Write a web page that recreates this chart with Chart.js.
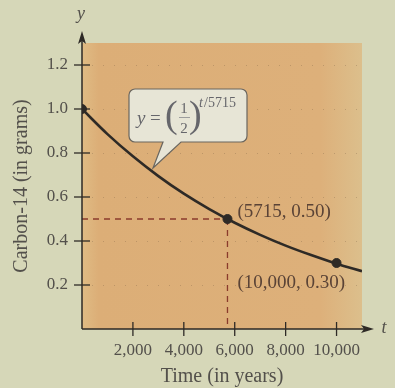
<!DOCTYPE html>
<html>
<head>
<meta charset="utf-8">
<script src="https://cdn.jsdelivr.net/npm/chart.js@4/dist/chart.umd.min.js"></script>
<style>
  html, body { margin: 0; padding: 0; background: #d6d7b8; }
  #wrap { width: 395px; height: 388px; position: relative; }
</style>
</head>
<body>
<div id="wrap"><canvas id="c" width="395" height="388"></canvas></div>
<script>
// Carbon-14 remaining over time (grams)
const curveYears = [0, 1000, 2000, 3000, 4000, 5000, 6000, 7000, 8000, 9000, 10000, 11000];
const curveGrams = [1.0, 0.886, 0.785, 0.695, 0.615, 0.545, 0.483, 0.428, 0.379, 0.336, 0.297, 0.263];

// Highlighted points
const markYears = [0, 5715, 10000];
const markGrams = [1.0, 0.50, 0.30];
const markLabels = ['', '(5715, 0.50)', '(10,000, 0.30)'];

// Axis tick values
const xTicks = [2000, 4000, 6000, 8000, 10000];
const yTicks = [0.2, 0.4, 0.6, 0.8, 1.0, 1.2];

const SERIF = "'Liberation Serif', 'Times New Roman', 'DejaVu Serif', serif";
const INK = '#2e2a26';
const TEXT = '#53504b';

const decorations = {
  id: 'decorations',
  beforeDraw(chart) {
    const { ctx, chartArea: a, scales: { x, y } } = chart;
    ctx.save();
    // page background
    ctx.fillStyle = '#d6d7b8';
    ctx.fillRect(0, 0, chart.width, chart.height);
    // shaded plot region
    const g = ctx.createLinearGradient(a.left, 0, a.right, 0);
    g.addColorStop(0, '#dfbb84');
    g.addColorStop(0.06, '#dcae77');
    g.addColorStop(0.85, '#ddb07a');
    g.addColorStop(1, '#dcbf8c');
    ctx.fillStyle = g;
    ctx.fillRect(a.left, a.top, a.right - a.left, a.bottom - a.top);
    // faint dotted guides
    ctx.strokeStyle = 'rgba(90,70,50,0.25)';
    ctx.lineWidth = 1;
    ctx.setLineDash([1, 10]);
    yTicks.forEach(v => {
      const py = Math.round(y.getPixelForValue(v)) + 0.5;
      ctx.beginPath();
      ctx.moveTo(a.left + 10, py);
      ctx.lineTo(a.right, py);
      ctx.stroke();
    });
    ctx.setLineDash([]);

    // dashed guides to the half-life point
    const hx = x.getPixelForValue(markYears[1]);
    const hy = y.getPixelForValue(markGrams[1]);
    ctx.strokeStyle = '#8a3b2c';
    ctx.lineWidth = 1.3;
    ctx.setLineDash([6, 5]);
    ctx.beginPath();
    ctx.moveTo(x.getPixelForValue(0), hy);
    ctx.lineTo(hx, hy);
    ctx.moveTo(hx, hy);
    ctx.lineTo(hx, y.getPixelForValue(0));
    ctx.stroke();
    ctx.setLineDash([]);

    // axes with arrowheads
    const ox = x.getPixelForValue(0), oy = y.getPixelForValue(0);
    ctx.strokeStyle = INK;
    ctx.fillStyle = INK;
    ctx.lineWidth = 1.5;
    ctx.beginPath();
    ctx.moveTo(ox, oy);
    ctx.lineTo(ox, 36);
    ctx.moveTo(ox, oy);
    ctx.lineTo(369, oy);
    ctx.stroke();
    ctx.beginPath();
    ctx.moveTo(ox, 31); ctx.lineTo(ox - 4, 44); ctx.lineTo(ox, 41); ctx.lineTo(ox + 4, 44); ctx.closePath();
    ctx.fill();
    ctx.beginPath();
    ctx.moveTo(374, oy); ctx.lineTo(361, oy - 4); ctx.lineTo(364, oy); ctx.lineTo(361, oy + 4); ctx.closePath();
    ctx.fill();
    // tick marks crossing the axes
    ctx.lineWidth = 1.3;
    yTicks.forEach(v => {
      const py = y.getPixelForValue(v);
      ctx.beginPath(); ctx.moveTo(ox - 8, py); ctx.lineTo(ox + 8, py); ctx.stroke();
    });
    xTicks.forEach(v => {
      const px = x.getPixelForValue(v);
      ctx.beginPath(); ctx.moveTo(px, oy - 7); ctx.lineTo(px, oy + 7); ctx.stroke();
    });
    // axis letters
    ctx.fillStyle = TEXT;
    ctx.font = 'italic 18px ' + SERIF;
    ctx.textAlign = 'center';
    ctx.textBaseline = 'middle';
    ctx.fillText('y', ox - 1, 14);
    ctx.fillText('t', 384, oy - 1);
    ctx.restore();
  },
  afterDatasetsDraw(chart) {
    const { ctx, scales: { x, y } } = chart;
    ctx.save();
    // point labels
    ctx.fillStyle = '#5a4336';
    ctx.font = '19px ' + SERIF;
    ctx.textAlign = 'left';
    ctx.textBaseline = 'middle';
    ctx.fillText(markLabels[1], x.getPixelForValue(markYears[1]) + 10, y.getPixelForValue(markGrams[1]) - 7);
    ctx.fillText(markLabels[2], x.getPixelForValue(markYears[2]) - 99, y.getPixelForValue(markGrams[2]) + 20);

    // formula callout
    const bx = 129, by = 89, bw = 118, bh = 53, r = 6;
    ctx.beginPath();
    ctx.moveTo(bx + r, by);
    ctx.lineTo(bx + bw - r, by);
    ctx.arcTo(bx + bw, by, bx + bw, by + r, r);
    ctx.lineTo(bx + bw, by + bh - r);
    ctx.arcTo(bx + bw, by + bh, bx + bw - r, by + bh, r);
    ctx.lineTo(181, by + bh);
    ctx.lineTo(153, 168);
    ctx.lineTo(163, by + bh);
    ctx.lineTo(bx + r, by + bh);
    ctx.arcTo(bx, by + bh, bx, by + bh - r, r);
    ctx.lineTo(bx, by + r);
    ctx.arcTo(bx, by, bx + r, by, r);
    ctx.closePath();
    ctx.fillStyle = '#e7e5d6';
    ctx.fill();
    ctx.strokeStyle = '#6a665f';
    ctx.lineWidth = 1.2;
    ctx.stroke();

    ctx.fillStyle = '#66666b';
    ctx.textBaseline = 'alphabetic';
    ctx.textAlign = 'left';
    ctx.font = 'italic 19px ' + SERIF;
    ctx.fillText('y', 137, 124);
    ctx.font = '19px ' + SERIF;
    ctx.fillText('=', 150, 124);
    ctx.font = '38px ' + SERIF;
    ctx.fillText('(', 165, 127);
    ctx.fillText(')', 189, 127);
    ctx.font = '15px ' + SERIF;
    ctx.textAlign = 'center';
    ctx.fillText('1', 184, 113);
    ctx.fillText('2', 184, 133);
    ctx.lineWidth = 0.8;
    ctx.strokeStyle = '#8a8a8e';
    ctx.beginPath(); ctx.moveTo(179, 117.5); ctx.lineTo(190, 117.5); ctx.stroke();
    ctx.textAlign = 'left';
    ctx.font = 'italic 14px ' + SERIF;
    ctx.fillText('t', 199, 107);
    ctx.font = '14px ' + SERIF;
    ctx.fillText('/5715', 204, 107);
    ctx.restore();
  }
};

const curvePoints = curveYears.map((t, i) => ({ x: t, y: curveGrams[i] }));
const markPoints = markYears.map((t, i) => ({ x: t, y: markGrams[i] }));

new Chart(document.getElementById('c'), {
  type: 'scatter',
  data: {
    datasets: [
      {
        data: markPoints,
        pointRadius: 4.5,
        pointBackgroundColor: INK,
        pointBorderColor: INK,
        showLine: false
      },
      {
        data: curvePoints,
        showLine: true,
        cubicInterpolationMode: 'monotone',
        borderColor: INK,
        borderWidth: 2.6,
        pointRadius: 0,
        fill: false
      }
    ]
  },
  options: {
    responsive: false,
    animation: false,
    events: [],
    layout: { padding: { top: 43, right: 33, left: 0, bottom: 0 } },
    plugins: { legend: { display: false }, tooltip: { enabled: false } },
    scales: {
      x: {
        type: 'linear',
        min: 0,
        max: 11000,
        afterBuildTicks: s => { s.ticks = xTicks.map(v => ({ value: v })); },
        afterFit: s => { s.height = 59; },
        grid: { display: false, drawTicks: false },
        border: { display: false },
        ticks: {
          padding: 11,
          color: TEXT,
          font: { family: SERIF, size: 17 },
          callback: v => v.toLocaleString('en-US')
        },
        title: {
          display: true,
          text: 'Time (in years)',
          color: TEXT,
          font: { family: SERIF, size: 20, lineHeight: 1 },
          padding: { top: 0, bottom: 1 }
        }
      },
      y: {
        min: 0,
        max: 1.3,
        afterBuildTicks: s => { s.ticks = yTicks.map(v => ({ value: v })); },
        afterFit: s => { s.width = 82; },
        grid: { display: false, drawTicks: false },
        border: { display: false },
        ticks: {
          padding: 14,
          color: TEXT,
          font: { family: SERIF, size: 17 },
          callback: v => v.toFixed(1)
        },
        title: {
          display: true,
          text: 'Carbon-14 (in grams)',
          color: TEXT,
          font: { family: SERIF, size: 20, lineHeight: 1 },
          padding: { top: 12, bottom: 0 }
        }
      }
    }
  },
  plugins: [decorations]
});
</script>
</body>
</html>
